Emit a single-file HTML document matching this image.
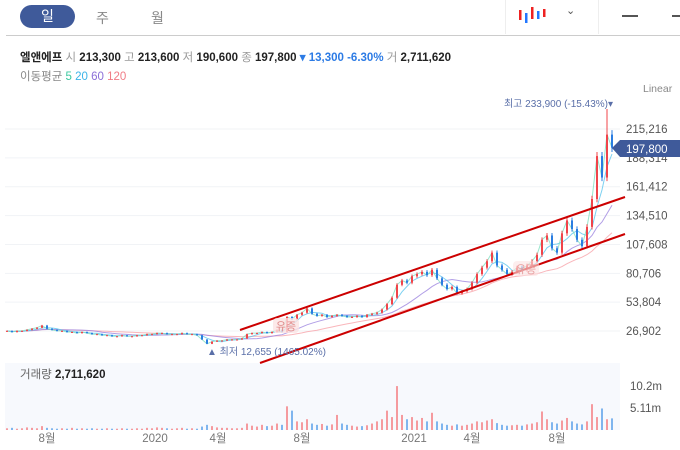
<!DOCTYPE html>
<html><head><meta charset="utf-8">
<style>
body{margin:0;background:#fff;font-family:"Liberation Sans","Noto Sans CJK KR",sans-serif;}
#wrap{position:relative;width:680px;height:450px;overflow:hidden;background:#fff;}
.t{position:absolute;white-space:nowrap;}
</style></head>
<body>
<div id="wrap">
  <div class="t" style="left:20px;top:5px;width:55px;height:23px;border-radius:12px;background:#3f5a9a;color:#fff;font-size:14px;line-height:23px;text-align:center;">일</div>
  <div class="t" style="left:96px;top:8px;color:#888;font-size:14px;">주</div>
  <div class="t" style="left:151px;top:8px;color:#888;font-size:14px;">월</div>
  <div style="position:absolute;left:505px;top:0;width:1px;height:34px;background:#eee;"></div>
  <div style="position:absolute;left:598px;top:0;width:1px;height:34px;background:#eee;"></div>
  <svg style="position:absolute;left:518px;top:7px" width="30" height="16">
    <rect x="1" y="3" width="2.5" height="10" fill="#e22"/><rect x="7" y="6" width="2.5" height="10" fill="#27f"/>
    <rect x="13" y="0" width="2.5" height="12" fill="#e22"/><rect x="19" y="4" width="2.5" height="8" fill="#27f"/><rect x="25" y="2" width="2.5" height="8" fill="#e22"/>
  </svg>
  <div class="t" style="left:566px;top:4px;color:#555;font-size:11px;">&#8964;</div>
  <div style="position:absolute;left:622px;top:15px;width:16px;height:1.5px;background:#555;"></div>
  <div style="position:absolute;left:672px;top:15px;width:10px;height:1.5px;background:#555;"></div>
  <div style="position:absolute;left:6px;top:35px;width:674px;height:1px;background:#ccc;"></div>

  <div class="t" style="left:20px;top:49px;font-size:11.5px;color:#222;font-weight:bold;">엘앤에프 <span style="font-weight:normal;color:#999">시</span> 213,300 <span style="font-weight:normal;color:#999">고</span> 213,600 <span style="font-weight:normal;color:#999">저</span> 190,600 <span style="font-weight:normal;color:#999">종</span> 197,800 <span style="color:#2c7be5">▾ 13,300 -6.30%</span> <span style="font-weight:normal;color:#999">거</span> 2,711,620</div>
  <div class="t" style="left:20px;top:68px;font-size:11.5px;color:#888;">이동평균 <span style="color:#3cc9a0">5</span> <span style="color:#3bb4e8">20</span> <span style="color:#8b6fd8">60</span> <span style="color:#f07c86">120</span></div>
  <div class="t" style="left:643px;top:83px;font-size:10.5px;color:#888;">Linear</div>

  <svg id="chart" style="position:absolute;left:0;top:0" width="680" height="450"></svg>

  <div class="t" style="left:20px;top:366px;font-size:11.5px;color:#666;">거래량 <b style="color:#222">2,711,620</b></div>
</div>
<script>
const closes=[27,26,27,27,28,29,30,32,29,28,27,27,26,26,25,26,25,24,24,
23,23,22,22,23,22,22,23,23,24,24,25,25,24,24,24,25,24,24,23,
19,15,17,18,18,19,19,19,20,24,25,25,26,25,
26,28,26,40,38,42,44,48,43,41,42,40,41,42,
41,40,40,41,40,42,43,44,47,52,58,70,74,72,78,80,82,79,
84,76,70,66,68,62,64,66,72,80,86,92,100,88,84,80,82,
86,84,88,92,98,112,116,104,100,118,130,122,112,106,124,150,
190,170,210,197.8];
const volumes=[0.4,0.5,0.3,0.4,0.6,0.5,0.4,0.9,0.5,0.4,0.3,0.4,0.3,0.5,0.3,0.4,0.3,0.4,0.3,
0.3,0.4,0.3,0.3,0.4,0.3,0.3,0.4,0.3,0.5,0.4,0.6,0.5,0.4,0.3,0.4,0.5,0.3,0.4,0.3,
0.8,1.2,0.9,0.6,0.5,0.5,0.4,0.4,0.5,1.5,1.0,0.8,1.2,0.9,
1.0,1.5,1.2,5.5,4.5,2.0,1.8,2.5,1.5,1.2,1.4,1.0,1.3,3.5,
1.5,1.2,1.0,0.8,0.9,1.1,1.5,2.0,2.5,4.5,3.0,10.2,3.5,2.5,3.0,2.2,2.8,2.0,
4.0,2.0,1.5,1.2,1.0,1.3,1.0,1.2,1.5,2.0,1.8,2.2,2.5,1.6,1.2,1.0,1.1,
1.2,1.0,1.3,1.5,1.8,4.3,2.5,1.8,1.5,2.2,2.8,2.0,1.5,1.3,2.0,6.0,
3.0,5.0,2.5,2.7];
const priceTicks=[26902,53804,80706,107608,134510,161412,188314,215216];
const volTicks=[["10.2m",10.2],["5.11m",5.11]];
const xLabels=[["8월",47],["2020",155],["4월",218],["8월",302],["2021",414],["4월",472],["8월",557]];
const peakHigh=233.9;
const peakIndex=120;

const svg=document.getElementById('chart');
const NS='http://www.w3.org/2000/svg';
function el(tag,attrs,parent){const e=document.createElementNS(NS,tag);for(const k in attrs)e.setAttribute(k,attrs[k]);(parent||svg).appendChild(e);return e;}
const yP=v=>359.9-v*1000/26902*28.86;
const xI=i=>7+i*5;
const yV=v=>430-v/5.11*22;

let vb=el('rect',{x:5,y:363,width:615,height:67,fill:'#f7f9fd'});


priceTicks.forEach(t=>{
  const g=el('line',{x1:5,x2:620,y1:yP(t/1000),y2:yP(t/1000),stroke:'#f1f3f6'});
  
  
  const tx=el('text',{x:626,y:yP(t/1000)+4,'font-size':11.5,fill:'#555'});
  tx.textContent=t.toLocaleString('en-US');
  
  
});
volTicks.forEach(t=>{
  const tx=el('text',{x:630,y:yV(t[1])+4,'font-size':11.5,fill:'#555'});
  tx.textContent=t[0];
  
  
});
xLabels.forEach(l=>{
  const tx=el('text',{x:l[1],y:442,'font-size':11.5,fill:'#777','text-anchor':'middle'});
  tx.textContent=l[0];
  
  
});
function ma(n,color){
  let pts=[];
  for(let i=0;i<closes.length;i++){
    const s=closes.slice(Math.max(0,i-Math.round(n/5)+1),i+1);
    pts.push(xI(i)+','+yP(s.reduce((a,b)=>a+b,0)/s.length).toFixed(1));
  }
  const p=el('polyline',{points:pts.join(' '),fill:'none',stroke:color,'stroke-width':1,opacity:0.8});
  
  
}
ma(120,'#f7a4aa');ma(60,'#9d86e0');ma(20,'#5cc5ee');ma(5,'#7fe0c0');
for(let i=0;i<closes.length;i++){
  const c=closes[i],o=i?closes[i-1]:c;
  const up=c>=o,col=up?'#f0444a':'#2a7de1';
  let hi=Math.max(o,c)*1.02,lo=Math.min(o,c)*0.98;
  if(i===peakIndex)hi=peakHigh;
  const w=el('line',{x1:xI(i),x2:xI(i),y1:yP(hi),y2:yP(lo),stroke:col,'stroke-width':1});
  
  
  const b=el('rect',{x:xI(i)-1,y:Math.min(yP(o),yP(c)),width:2,height:Math.max(1,Math.abs(yP(o)-yP(c))),fill:col});
  
  
  const vol=el('rect',{x:xI(i)-1,y:yV(volumes[i]),width:2,height:430-yV(volumes[i]),fill:up?'#f59a9e':'#7fb5ee'});
  
  
}
let t1=el('line',{x1:240,y1:330,x2:625,y2:197,stroke:'#c00',"stroke-width":2});


let t2=el('line',{x1:260,y1:363,x2:625,y2:234,stroke:'#c00',"stroke-width":2});


function txt(x,y,s,str,fill,name,anchor){const t=el('text',{x:x,y:y,'font-size':s,fill:fill,'text-anchor':anchor||'start'});t.textContent=str;return t;}
txt(613,107,10,'최고 233,900 (-15.43%)▾','#5a6fa8','high-annotation','end');
txt(207,355,10,'▲ 최저 12,655 (1465.02%)','#5a6fa8','low-annotation');
let r1=el('rect',{x:273,y:318,width:26,height:15,rx:4,fill:'#fbe3e3',opacity:0.8});


txt(286,330,11,'유증','#e08a8a','rights-issue-badge','middle');
let r2=el('rect',{x:513,y:261,width:26,height:15,rx:4,fill:'#fbe3e3',opacity:0.6});


txt(526,273,11,'유증','#e8a0a0','rights-issue-badge-2','middle');
let pb=el('path',{d:'M612,148 L620,140 L680,140 L680,157 L620,157 Z',fill:'#3f5a9a'});


txt(626,153,11.5,'197,800','#fff','current-price-label');
</script>
</body></html>
